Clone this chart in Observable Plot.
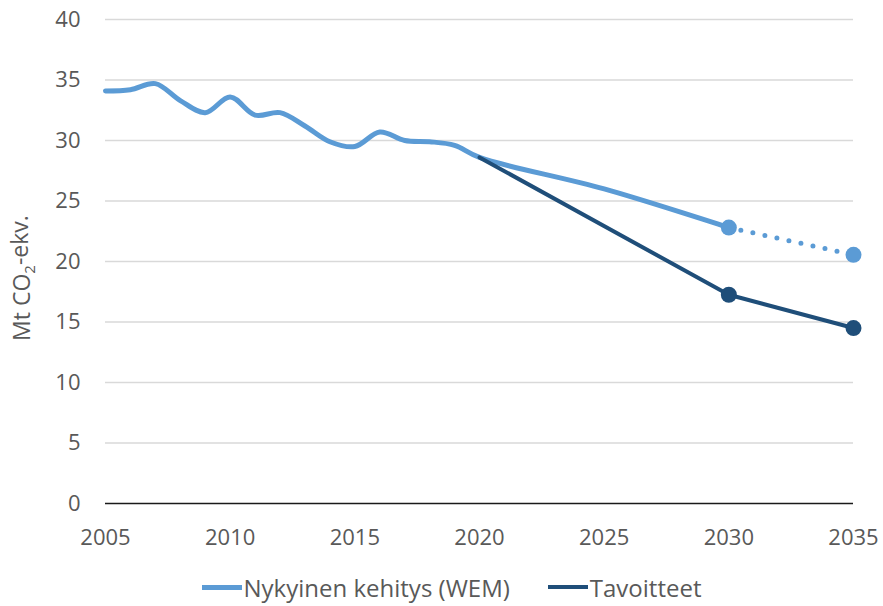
<!DOCTYPE html>
<html>
<head>
<meta charset="utf-8">
<script src="https://cdn.jsdelivr.net/npm/d3@7"></script>
<script src="https://cdn.jsdelivr.net/npm/@observablehq/plot@0.6"></script>
<style>
  html, body { margin: 0; padding: 0; background: #fff; }
  body { width: 883px; height: 606px; overflow: hidden; font-family: "Open Sans", sans-serif; }
  #legend { display: flex; justify-content: center; align-items: center; height: 46px; margin-top: 4px; padding-left: 20px; }
  .item { display: flex; align-items: center; font-size: 24px; color: #595959; }
  .sw { width: 40px; height: 4px; margin-right: 2px; }
  .item + .item { margin-left: 38px; }
</style>
</head>
<body>
<div id="chart"></div>
<div id="legend"></div>
<script>
const seriesNames = ["Nykyinen kehitys (WEM)", "Tavoitteet"];
const colors = ["#5B9BD5", "#1F4E79"];

// WEM: historical + projection to 2030 (solid, smoothed)
const wemYears = [2005, 2006, 2007, 2008, 2009, 2010, 2011, 2012, 2013, 2014, 2015, 2016, 2017, 2018, 2019, 2020, 2025, 2030];
const wemValues = [34.1, 34.2, 34.7, 33.3, 32.3, 33.6, 32.1, 32.3, 31.2, 29.9, 29.5, 30.7, 30.0, 29.9, 29.6, 28.6, 26.0, 22.8];
// WEM 2030 -> 2035 (dotted)
const wemExtYears = [2030, 2035];
const wemExtValues = [22.8, 20.55];
// Targets
const targetYears = [2020, 2030, 2035];
const targetValues = [28.6, 17.25, 14.5];
// markers
const wemMarkerYears = [2030, 2035];
const wemMarkerValues = [22.8, 20.55];
const targetMarkerYears = [2030, 2035];
const targetMarkerValues = [17.25, 14.5];

const xTicks = [2005, 2010, 2015, 2020, 2025, 2030, 2035];
const yTicks = [0, 5, 10, 15, 20, 25, 30, 35, 40];
const yTitle = ["Mt CO", "2", "-ekv."];

const wem = wemYears.map((y, i) => ({year: y, value: wemValues[i]}));
const wemExt = wemExtYears.map((y, i) => ({year: y, value: wemExtValues[i]}));
const target = targetYears.map((y, i) => ({year: y, value: targetValues[i]}));
const wemMarks = wemMarkerYears.map((y, i) => ({year: y, value: wemMarkerValues[i]}));
const targetMarks = targetMarkerYears.map((y, i) => ({year: y, value: targetMarkerValues[i]}));

const plot = Plot.plot({
  width: 883,
  height: 560,
  marginLeft: 105,
  marginRight: 30,
  marginTop: 19,
  marginBottom: 57,
  style: {fontFamily: "'Open Sans', sans-serif", fontSize: "22px", color: "#595959", background: "#fff"},
  x: {domain: [2005, 2035], ticks: xTicks, tickFormat: d => String(d)},
  y: {domain: [0, 40], ticks: yTicks},
  marks: [
    Plot.ruleY(yTicks.filter(d => d > 0), {stroke: "#d9d9d9", strokeWidth: 1.3}),
    Plot.ruleY([0], {stroke: "#1a1a1a", strokeWidth: 1.5}),
    Plot.axisX({ticks: xTicks, tickSize: 0, tickPadding: 26, label: null, fill: "#595959", fontSize: 22, tickFormat: d => String(d)}),
    Plot.axisY({ticks: yTicks, tickSize: 0, tickPadding: 25, label: null, fill: "#595959", fontSize: 22}),
    Plot.line(wem, {x: "year", y: "value", stroke: colors[0], strokeWidth: 5, curve: "catmull-rom", strokeLinecap: "round", strokeLinejoin: "round"}),
    Plot.line(wemExt, {x: "year", y: "value", stroke: colors[0], strokeWidth: 5, strokeDasharray: "0 12.3", strokeLinecap: "round"}),
    Plot.line(target, {x: "year", y: "value", stroke: colors[1], strokeWidth: 4}),
    Plot.dot(wemMarks, {x: "year", y: "value", r: 8, fill: colors[0], stroke: "none"}),
    Plot.dot(targetMarks, {x: "year", y: "value", r: 8, fill: colors[1], stroke: "none"})
  ]
});
document.getElementById("chart").appendChild(plot);

// y-axis title with subscript
const svg = d3.select(plot);
const t = svg.append("text")
  .attr("transform", "translate(30,278) rotate(-90)")
  .attr("text-anchor", "middle")
  .attr("fill", "#595959")
  .style("font-size", "23px")
  .style("font-family", "'Open Sans', sans-serif");
t.append("tspan").text(yTitle[0]);
t.append("tspan").attr("dy", "0.3em").style("font-size", "15px").text(yTitle[1]);
t.append("tspan").attr("dy", "-0.3em").text(yTitle[2]);

// legend
const legend = d3.select("#legend");
seriesNames.forEach((name, i) => {
  const it = legend.append("div").attr("class", "item");
  it.append("div").attr("class", "sw").style("background", colors[i]).style("height", i === 0 ? "5px" : "4px");
  it.append("span").text(name);
});
</script>
</body>
</html>
